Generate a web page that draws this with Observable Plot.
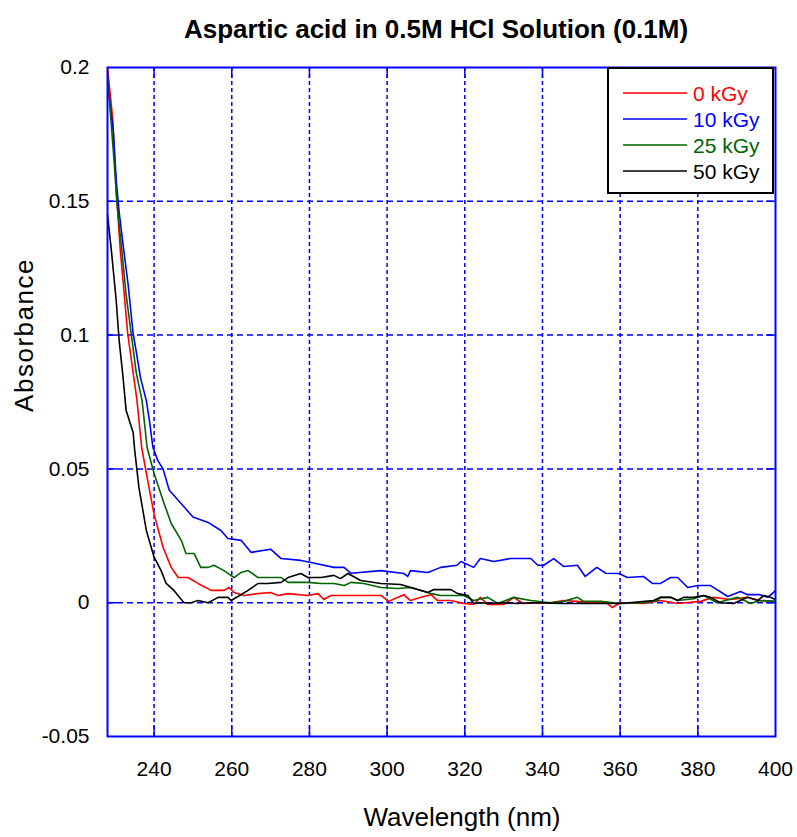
<!DOCTYPE html>
<html><head><meta charset="utf-8">
<script src="https://cdn.jsdelivr.net/npm/d3@7"></script>
<script src="https://cdn.jsdelivr.net/npm/@observablehq/plot@0.6"></script>
<style>
body{margin:0;background:#fff;font-family:"Liberation Sans",Arial,sans-serif;}
#wrap{position:relative;width:797px;height:837px;}
#title{position:absolute;left:0;top:16px;width:872px;text-align:center;font-weight:bold;font-size:26px;line-height:1;color:#000;}
#wrap svg{position:absolute;left:0;top:0;}
</style></head><body><div id="wrap"></div>
<script>
const titleText = "Aspartic acid in 0.5M HCl Solution (0.1M)";
const xLabel = "Wavelength (nm)";
const yLabel = "Absorbance";
const seriesNames = ["0 kGy", "10 kGy", "25 kGy", "50 kGy"];
const seriesColors = ["#ff0000", "#0000ff", "#006400", "#000000"];
const xTicks = [240, 260, 280, 300, 320, 340, 360, 380, 400];
const yTicks = [-0.05, 0, 0.05, 0.1, 0.15, 0.2];
const yTickLabels = ["-0.05", "0", "0.05", "0.1", "0.15", "0.2"];

const wl0 = [228, 229.4, 230.2, 231.3, 232.2, 233.2, 234.5, 235.6, 236.8, 238.5, 240, 242.3, 244.4, 246.2, 248.7, 251.3, 254.7, 258, 259.3, 260.6, 263.2, 266.7, 270, 271.9, 274.5, 279.6, 282.2, 283.7, 285.5, 290.7, 298.4, 300.4, 302.8, 304.3, 306, 308.7, 311.3, 313, 316.4, 319.7, 322.3, 324, 325.9, 330, 332.6, 335, 338.8, 342, 345.5, 349, 352.4, 356.5, 358, 360, 366, 370.4, 374.8, 380.7, 384, 388.4, 392.8, 396, 400];
const abs0 = [0.2, 0.18, 0.155, 0.1316, 0.117, 0.1006, 0.087, 0.0755, 0.058, 0.0445, 0.033, 0.0207, 0.0132, 0.0094, 0.0094, 0.0072, 0.0046, 0.0046, 0.0057, 0.0038, 0.0027, 0.0034, 0.0038, 0.0027, 0.0034, 0.0027, 0.0034, 0.0012, 0.0027, 0.0027, 0.0027, 0.0005, 0.002, 0.003, 0.0008, 0.002, 0.003, 0.0008, 0.0008, -0.0003, -0.0007, 0.002, -0.0007, -0.0007, 0.002, -0.0003, 0, 0, 0.0008, 0.0005, 0, 0, -0.0018, 0, -0.0003, 0.0008, -0.0003, 0.0005, 0.002, 0.0012, 0.002, 0.0008, 0.0005];

const wl10 = [228, 229.5, 230.3, 231, 232.2, 233.3, 234.6, 235.5, 236.5, 238, 238.8, 239.7, 241, 242.3, 243.9, 247, 250, 253.9, 257.2, 259, 262.4, 265, 270, 272.7, 277.8, 280.4, 286.3, 288.9, 290.7, 298.4, 304.3, 305.3, 306, 310.5, 313.8, 318, 319, 322.3, 324, 327.5, 331.8, 337, 338.8, 340.3, 342.9, 345.5, 349, 351, 354, 356.3, 359.6, 361.9, 366, 368.3, 370.4, 373, 374.8, 377.4, 380, 383.3, 387.7, 391, 392.8, 396, 398, 400];
const abs10 = [0.195, 0.1757, 0.157, 0.146, 0.1316, 0.119, 0.1006, 0.093, 0.084, 0.0755, 0.068, 0.058, 0.053, 0.050, 0.042, 0.037, 0.032, 0.030, 0.027, 0.024, 0.0233, 0.0188, 0.020, 0.0165, 0.0158, 0.015, 0.0132, 0.0132, 0.011, 0.012, 0.0109, 0.0098, 0.012, 0.0113, 0.0132, 0.014, 0.0154, 0.0132, 0.0165, 0.0154, 0.0165, 0.0165, 0.014, 0.014, 0.0165, 0.0135, 0.014, 0.0098, 0.0132, 0.011, 0.0109, 0.0094, 0.0098, 0.0072, 0.0072, 0.0094, 0.0094, 0.0057, 0.0064, 0.0064, 0.0023, 0.0042, 0.003, 0.003, 0.002, 0.0045];

const wl25 = [228, 229.7, 230.4, 231.7, 232.8, 234.1, 235.4, 236.9, 238.2, 240, 242.3, 244.4, 247, 248.2, 250.3, 252, 254, 255.4, 258, 260.6, 262.4, 264.2, 266.8, 272.7, 274.5, 279.6, 283, 286.3, 289, 290.7, 294, 298.4, 302.8, 306.1, 307.9, 311.3, 313.8, 319.7, 322.3, 325.9, 328.5, 332.6, 337, 342, 345.5, 349, 350.6, 355, 360, 366, 369.6, 370.4, 373, 374.8, 379, 381.5, 385, 390.2, 393.6, 396, 400];
const abs25 = [0.197, 0.165, 0.15, 0.1316, 0.115, 0.1006, 0.086, 0.0755, 0.058, 0.0483, 0.0382, 0.0296, 0.0233, 0.0184, 0.0184, 0.0132, 0.0132, 0.014, 0.012, 0.0094, 0.0113, 0.012, 0.0094, 0.0094, 0.0076, 0.0076, 0.0072, 0.0072, 0.0064, 0.0076, 0.0072, 0.0057, 0.0053, 0.0057, 0.0049, 0.0034, 0.0027, 0.0027, 0.0008, 0.002, -0.0003, 0.002, 0.0008, 0, 0.0005, 0.002, 0.0005, 0.0005, -0.0003, 0, 0.0008, 0.002, 0.002, 0.0008, 0.0015, 0.0027, 0, 0.002, -0.0003, 0.0008, 0.0005];

const wl50 = [228, 229, 230.2, 231, 232, 232.8, 234.6, 235, 236.1, 238, 240, 241.8, 243.1, 245.1, 247.7, 249.5, 251.3, 253.9, 256.5, 259, 259.8, 261.6, 264.2, 266.8, 269.3, 272.7, 274.5, 277.8, 279.6, 283, 286.3, 288, 289.9, 293.2, 298.4, 303.5, 306.1, 310.5, 312, 316.4, 318.2, 320.8, 322.3, 324.1, 326.7, 329.3, 333.6, 337, 345.5, 352.4, 360, 368.6, 370.4, 373, 374.8, 376.3, 379, 381.5, 383.3, 385.8, 389.2, 392.8, 395.4, 397, 398.7, 400];
const abs50 = [0.145, 0.1316, 0.1136, 0.098, 0.0843, 0.0718, 0.0636, 0.057, 0.043, 0.027, 0.017, 0.012, 0.0072, 0.0046, 0, 0, 0.0008, 0, 0.002, 0.002, 0.0008, 0.0023, 0.0046, 0.0072, 0.0072, 0.0076, 0.0094, 0.0109, 0.0094, 0.0094, 0.0102, 0.009, 0.0109, 0.0083, 0.0072, 0.0068, 0.0057, 0.0038, 0.0049, 0.0049, 0.0034, 0.0027, -0.0003, 0, -0.0003, 0, -0.0003, 0, -0.0003, -0.0003, -0.0003, 0.0008, 0.002, 0.002, 0.0008, 0.002, 0.002, 0.0027, 0.002, 0, -0.0003, 0.002, 0.0008, 0.0027, 0.002, 0.0012];

const seriesX = [wl0, wl10, wl25, wl50];
const seriesY = [abs0, abs10, abs25, abs50];
const data = [];
seriesNames.forEach((name, i) => {
  seriesX[i].forEach((x, j) => data.push({series: name, wl: x, abs: seriesY[i][j]}));
});

const blue = "#0000ff";
const innerX = xTicks.filter(v => v < 400);
const innerY = yTicks.filter(v => v > -0.05 && v < 0.2);
const fmtY = d => yTickLabels[yTicks.indexOf(d)];

const chart = Plot.plot({
  width: 797, height: 837,
  marginLeft: 107, marginRight: 22, marginTop: 67, marginBottom: 101,
  style: {fontFamily: "'Liberation Sans', Arial, sans-serif", fontSize: "21px", color: "#000", background: "#fff", overflow: "visible"},
  x: {domain: [228, 400], label: null},
  y: {domain: [-0.05, 0.2], label: null},
  color: {domain: seriesNames, range: seriesColors},
  marks: [
    Plot.gridX(innerX, {stroke: blue, strokeOpacity: 1, strokeWidth: 1.5, strokeDasharray: "4,3"}),
    Plot.gridY(innerY, {stroke: blue, strokeOpacity: 1, strokeWidth: 1.5, strokeDasharray: "6,4"}),
    Plot.axisX(xTicks, {anchor: "bottom", tickSize: 0, tickPadding: 25, label: null, fontSize: 21}),
    Plot.axisY(yTicks, {anchor: "left", tickSize: 0, tickPadding: 18, tickFormat: fmtY, label: null, fontSize: 21}),
    Plot.axisX(innerX, {anchor: "bottom", tickSize: -10, tickFormat: () => "", label: null, stroke: blue, strokeWidth: 1.5}),
    Plot.axisX(innerX, {anchor: "top", tickSize: -10, tickFormat: () => "", label: null, stroke: blue, strokeWidth: 1.5}),
    Plot.axisY(innerY, {anchor: "left", tickSize: -10, tickFormat: () => "", label: null, stroke: blue, strokeWidth: 1.5}),
    Plot.axisY(innerY, {anchor: "right", tickSize: -10, tickFormat: () => "", label: null, stroke: blue, strokeWidth: 1.5}),
    Plot.line(data, {x: "wl", y: "abs", z: "series", stroke: "series", strokeWidth: 1.6, clip: true}),
    Plot.frame({stroke: blue, strokeWidth: 2})
  ]
});

const wrap = document.getElementById("wrap");
wrap.appendChild(chart);
const t = document.createElement("div");
t.id = "title";
t.textContent = titleText;
wrap.appendChild(t);

const svg = d3.select(chart);
svg.append("text").attr("transform", "translate(33,335) rotate(-90)")
  .attr("text-anchor", "middle").attr("font-size", 26).attr("letter-spacing", 1.5)
  .attr("fill", "#000").text(yLabel);
svg.append("text").attr("x", 462).attr("y", 826)
  .attr("text-anchor", "middle").attr("font-size", 26).attr("fill", "#000").text(xLabel);

const lg = svg.append("g");
lg.append("rect").attr("x", 608).attr("y", 68).attr("width", 165).attr("height", 125)
  .attr("fill", "#fff").attr("stroke", "#000").attr("stroke-width", 2);
seriesNames.forEach((name, i) => {
  const yy = 93 + i * 26;
  lg.append("line").attr("x1", 623).attr("x2", 687).attr("y1", yy).attr("y2", yy)
    .attr("stroke", seriesColors[i]).attr("stroke-width", 1.5);
  lg.append("text").attr("x", 693).attr("y", yy).attr("dy", "0.36em")
    .attr("text-anchor", "start")
    .attr("font-size", 21).attr("fill", seriesColors[i]).text(name);
});
</script>
</body></html>
